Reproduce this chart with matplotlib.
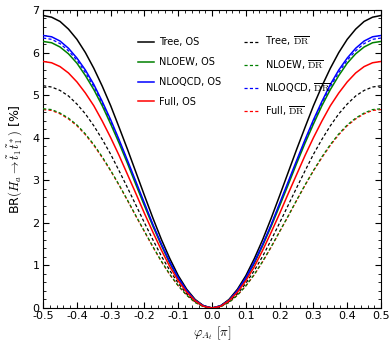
import numpy as np
import matplotlib
matplotlib.use("Agg")
import matplotlib.pyplot as plt
from matplotlib.ticker import MultipleLocator

plt.rcParams['mathtext.fontset'] = 'cm'
plt.rcParams['font.family'] = ['DejaVu Sans']

phi = [-0.5, -0.475, -0.45, -0.425, -0.4, -0.375, -0.35, -0.325, -0.3, -0.275,
       -0.25, -0.225, -0.2, -0.175, -0.15, -0.125, -0.1, -0.075, -0.05, -0.025,
       0.0, 0.025, 0.05, 0.075, 0.1, 0.125, 0.15, 0.175, 0.2, 0.225,
       0.25, 0.275, 0.3, 0.325, 0.35, 0.375, 0.4, 0.425, 0.45, 0.475, 0.5]

tree_os = [6.87, 6.83, 6.73, 6.55, 6.31, 6.00, 5.63, 5.21, 4.75, 4.24, 3.72, 3.18, 2.64, 2.11, 1.61, 1.16, 0.76, 0.44, 0.20, 0.05,
           0.0,
           0.05, 0.20, 0.44, 0.76, 1.16, 1.61, 2.11, 2.64, 3.18, 3.72, 4.24, 4.75, 5.21, 5.63, 6.00, 6.31, 6.55, 6.73, 6.83, 6.87]
nloew_os = [6.26, 6.23, 6.13, 5.97, 5.75, 5.46, 5.13, 4.75, 4.32, 3.87, 3.39, 2.89, 2.40, 1.92, 1.47, 1.05, 0.69, 0.40, 0.18, 0.05,
            0.0,
            0.05, 0.18, 0.40, 0.69, 1.05, 1.47, 1.92, 2.40, 2.89, 3.39, 3.87, 4.32, 4.75, 5.13, 5.46, 5.75, 5.97, 6.13, 6.23, 6.26]
nloqcd_os = [6.40, 6.37, 6.27, 6.10, 5.87, 5.59, 5.25, 4.85, 4.42, 3.95, 3.46, 2.96, 2.46, 1.96, 1.50, 1.08, 0.71, 0.41, 0.18, 0.05,
             0.0,
             0.05, 0.18, 0.41, 0.71, 1.08, 1.50, 1.96, 2.46, 2.96, 3.46, 3.95, 4.42, 4.85, 5.25, 5.59, 5.87, 6.10, 6.27, 6.37, 6.40]
full_os = [5.79, 5.76, 5.67, 5.52, 5.31, 5.05, 4.75, 4.39, 4.00, 3.58, 3.13, 2.68, 2.22, 1.78, 1.36, 0.97, 0.64, 0.37, 0.17, 0.04,
           0.0,
           0.04, 0.17, 0.37, 0.64, 0.97, 1.36, 1.78, 2.22, 2.68, 3.13, 3.58, 4.00, 4.39, 4.75, 5.05, 5.31, 5.52, 5.67, 5.76, 5.79]
tree_dr = [5.22, 5.19, 5.11, 4.98, 4.79, 4.56, 4.28, 3.96, 3.61, 3.22, 2.82, 2.41, 2.00, 1.60, 1.22, 0.88, 0.58, 0.33, 0.15, 0.04,
           0.0,
           0.04, 0.15, 0.33, 0.58, 0.88, 1.22, 1.60, 2.00, 2.41, 2.82, 3.22, 3.61, 3.96, 4.28, 4.56, 4.79, 4.98, 5.11, 5.19, 5.22]
nloew_dr = [4.68, 4.66, 4.58, 4.46, 4.30, 4.09, 3.84, 3.55, 3.23, 2.89, 2.53, 2.16, 1.80, 1.44, 1.10, 0.79, 0.52, 0.30, 0.13, 0.03,
            0.0,
            0.03, 0.13, 0.30, 0.52, 0.79, 1.10, 1.44, 1.80, 2.16, 2.53, 2.89, 3.23, 3.55, 3.84, 4.09, 4.30, 4.46, 4.58, 4.66, 4.68]
nloqcd_dr = [6.34, 6.31, 6.21, 6.04, 5.82, 5.53, 5.20, 4.81, 4.38, 3.92, 3.43, 2.93, 2.43, 1.95, 1.49, 1.07, 0.70, 0.40, 0.18, 0.05,
             0.0,
             0.05, 0.18, 0.40, 0.70, 1.07, 1.49, 1.95, 2.43, 2.93, 3.43, 3.92, 4.38, 4.81, 5.20, 5.53, 5.82, 6.04, 6.21, 6.31, 6.34]
full_dr = [4.66, 4.64, 4.56, 4.44, 4.28, 4.07, 3.82, 3.53, 3.22, 2.88, 2.52, 2.15, 1.79, 1.43, 1.09, 0.78, 0.52, 0.30, 0.13, 0.03,
           0.0,
           0.03, 0.13, 0.30, 0.52, 0.78, 1.09, 1.43, 1.79, 2.15, 2.52, 2.88, 3.22, 3.53, 3.82, 4.07, 4.28, 4.44, 4.56, 4.64, 4.66]

labels_os = ['Tree, OS', 'NLOEW, OS', 'NLOQCD, OS', 'Full, OS']
labels_dr = [r'Tree, $\overline{\rm DR}$', r'NLOEW, $\overline{\rm DR}$',
             r'NLOQCD, $\overline{\rm DR}$', r'Full, $\overline{\rm DR}$']
colors = ['black', 'green', 'blue', 'red']

fig = plt.figure(figsize=(3.92, 3.43), dpi=100)
ax = fig.add_axes([0.110, 0.102, 0.862, 0.869])

os_series = [tree_os, nloew_os, nloqcd_os, full_os]
dr_series = [tree_dr, nloew_dr, nloqcd_dr, full_dr]
dr_z = [3, 3, 3, 2]

handles = []
for ys, c, lab in zip(os_series, colors, labels_os):
    h, = ax.plot(phi, ys, color=c, lw=1.1, label=lab, zorder=4)
    handles.append(h)
for ys, c, lab, z in zip(dr_series, colors, labels_dr, dr_z):
    h, = ax.plot(phi, ys, color=c, lw=0.9, ls=(0, (2.5, 1.8)), label=lab, zorder=z)
    handles.append(h)

ax.set_xlim(-0.5, 0.5)
ax.set_ylim(0, 7)
ax.xaxis.set_major_locator(MultipleLocator(0.1))
ax.xaxis.set_minor_locator(MultipleLocator(0.02))
ax.yaxis.set_major_locator(MultipleLocator(1))
ax.yaxis.set_minor_locator(MultipleLocator(0.2))
ax.xaxis.set_major_formatter(matplotlib.ticker.FormatStrFormatter('%.1f'))
ax.tick_params(which='both', direction='in', top=True, right=True, labelsize=8)
ax.tick_params(which='major', length=4, width=0.8, pad=2.5)
ax.tick_params(which='minor', length=2, width=0.6)

ax.set_xlabel(r'$\varphi_{A_t}\ [\pi]$', fontsize=9.5, labelpad=2)
ax.set_ylabel(r'BR$(H_a \to \tilde{t}_1 \tilde{t}_1^*)$ [%]', fontsize=9, labelpad=6)

ax.legend(handles=handles, ncol=2, loc='upper left', bbox_to_anchor=(0.255, 0.945),
          frameon=False, fontsize=7, handlelength=1.6, labelspacing=1.0,
          columnspacing=2.3, handletextpad=0.6)

fig.savefig('out.png', dpi=100)
